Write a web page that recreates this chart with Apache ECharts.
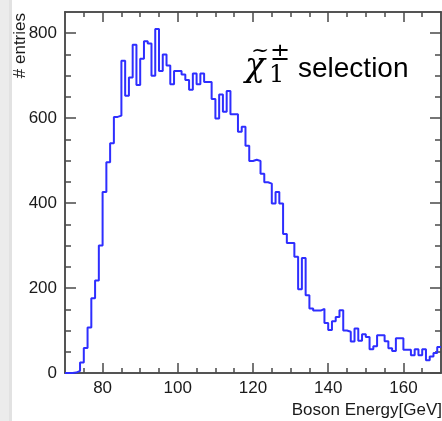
<!DOCTYPE html>
<html>
<head>
    <meta charset="utf-8">
    <title>Boson Energy</title>
    <script src="https://cdn.jsdelivr.net/npm/echarts@6.0.0/dist/echarts.min.js"></script>
    <style>
        body { margin: 0; background: #fff; }
        #chart { width: 442px; height: 421px; }
    </style>
</head>
<body>
    <div id="chart"></div>
    <script>
        // histogram: 1 GeV bins from 70 to 170
        const binStart = 70;
        const binWidth = 1;
        const counts = [
            0, 0, 1, 5, 25, 59, 107, 176, 218, 300,          // 70-79
            426, 496, 541, 603, 606, 735, 653, 696, 773, 678, // 80-89
            740, 781, 776, 700, 810, 711, 750, 724, 680, 711, // 90-99
            711, 703, 690, 667, 705, 680, 705, 685, 685, 645, // 100-109
            599, 656, 615, 664, 609, 609, 568, 580, 535, 499, // 110-119
            502, 499, 469, 449, 446, 399, 426, 399, 327, 306, // 120-129
            306, 274, 197, 271, 183, 152, 147, 147, 151, 118, // 130-139
            101, 122, 132, 148, 100, 97, 74, 105, 76, 91,     // 140-149
            85, 56, 63, 89, 89, 75, 58, 52, 82, 82,           // 150-159
            55, 55, 42, 56, 42, 56, 30, 39, 47, 61            // 160-169
        ];

        const xMajor = [80, 100, 120, 140, 160];
        const xMinor = [75, 85, 90, 95, 105, 110, 115, 125, 130, 135, 145, 150, 155, 165];
        const yMajor = [0, 200, 400, 600, 800];
        const yMinor = [50, 100, 150, 250, 300, 350, 450, 500, 550, 650, 700, 750];

        const font = "'Liberation Sans', Arial, sans-serif";
        const serif = "'DejaVu Serif', serif";
        const frame = '#4a4a4a';

        const histData = counts.map((c, i) => [binStart + i * binWidth, c]);
        histData.push([binStart + counts.length * binWidth, counts[counts.length - 1]]);

        function xAx(pos, ticks, len, labels) {
            return {
                type: 'value', min: 70, max: 170, position: pos,
                axisLine: { show: true, onZero: false, lineStyle: { color: frame, width: 1.5 } },
                axisTick: { show: true, inside: true, length: len, customValues: ticks,
                            lineStyle: { color: frame, width: 1.5 } },
                axisLabel: labels ? { show: true, customValues: ticks, fontSize: 17, margin: 7,
                                      color: '#1a1a1a', fontFamily: font } : { show: false },
                splitLine: { show: false }
            };
        }
        function yAx(pos, ticks, len, labels) {
            return {
                type: 'value', min: 0, max: 850, position: pos,
                axisLine: { show: true, onZero: false, lineStyle: { color: frame, width: 1.5 } },
                axisTick: { show: true, inside: true, length: len, customValues: ticks,
                            lineStyle: { color: frame, width: 1.5 } },
                axisLabel: labels ? { show: true, customValues: ticks, fontSize: 17, margin: 8,
                                      color: '#1a1a1a', fontFamily: font } : { show: false },
                splitLine: { show: false }
            };
        }

        const chart = echarts.init(document.getElementById('chart'));
        chart.setOption({
            backgroundColor: '#fff',
            animation: false,
            grid: { left: 65, right: 1, top: 12, bottom: 48 },
            xAxis: [
                xAx('bottom', xMajor, 10, true),
                xAx('bottom', xMinor, 5, false),
                xAx('top', xMajor, 10, false),
                xAx('top', xMinor, 5, false)
            ],
            yAxis: [
                yAx('left', yMajor, 11, true),
                yAx('left', yMinor, 6, false),
                yAx('right', yMajor, 11, false),
                yAx('right', yMinor, 6, false)
            ],
            series: [{
                type: 'line',
                xAxisIndex: 0,
                yAxisIndex: 0,
                step: 'end',
                data: histData,
                symbol: 'none',
                z: 5,
                lineStyle: { color: '#2e2eff', width: 2 }
            }],
            graphic: [
                { type: 'rect', shape: { x: 0, y: 0, width: 12, height: 421 },
                  style: { fill: '#ececec' }, silent: true },
                { type: 'rect', shape: { x: 9, y: 0, width: 3, height: 421 },
                  style: { fill: '#e2e2e2' }, silent: true },
                { type: 'text', x: 20, y: 13, rotation: Math.PI / 2,
                  style: { text: '# entries', font: '17px ' + font, fill: '#1a1a1a',
                           align: 'right', verticalAlign: 'middle' } },
                { type: 'text', x: 442, y: 410,
                  style: { text: 'Boson Energy[GeV]', font: '17px ' + font, fill: '#1a1a1a',
                           align: 'right', verticalAlign: 'middle' } },
                // chi-tilde-1-plus-minus selection label (top-aligned boxes)
                { type: 'text', x: 245, y: 51,
                  style: { text: 'χ', font: 'italic 33px ' + serif, fill: '#000',
                           align: 'left', verticalAlign: 'top' } },
                { type: 'text', x: 251, y: 40,
                  style: { text: '~', font: '22px ' + serif, fill: '#000',
                           align: 'left', verticalAlign: 'top' } },
                { type: 'text', x: 269, y: 64,
                  style: { text: '1', font: '24px ' + serif, fill: '#000',
                           align: 'left', verticalAlign: 'top' } },
                { type: 'text', x: 270, y: 42,
                  style: { text: '±', font: '24px ' + serif, fill: '#000',
                           align: 'left', verticalAlign: 'top' } },
                { type: 'text', x: 298, y: 55,
                  style: { text: 'selection', font: '28px ' + font, fill: '#000',
                           align: 'left', verticalAlign: 'top' } }
            ]
        });
    </script>
</body>
</html>
